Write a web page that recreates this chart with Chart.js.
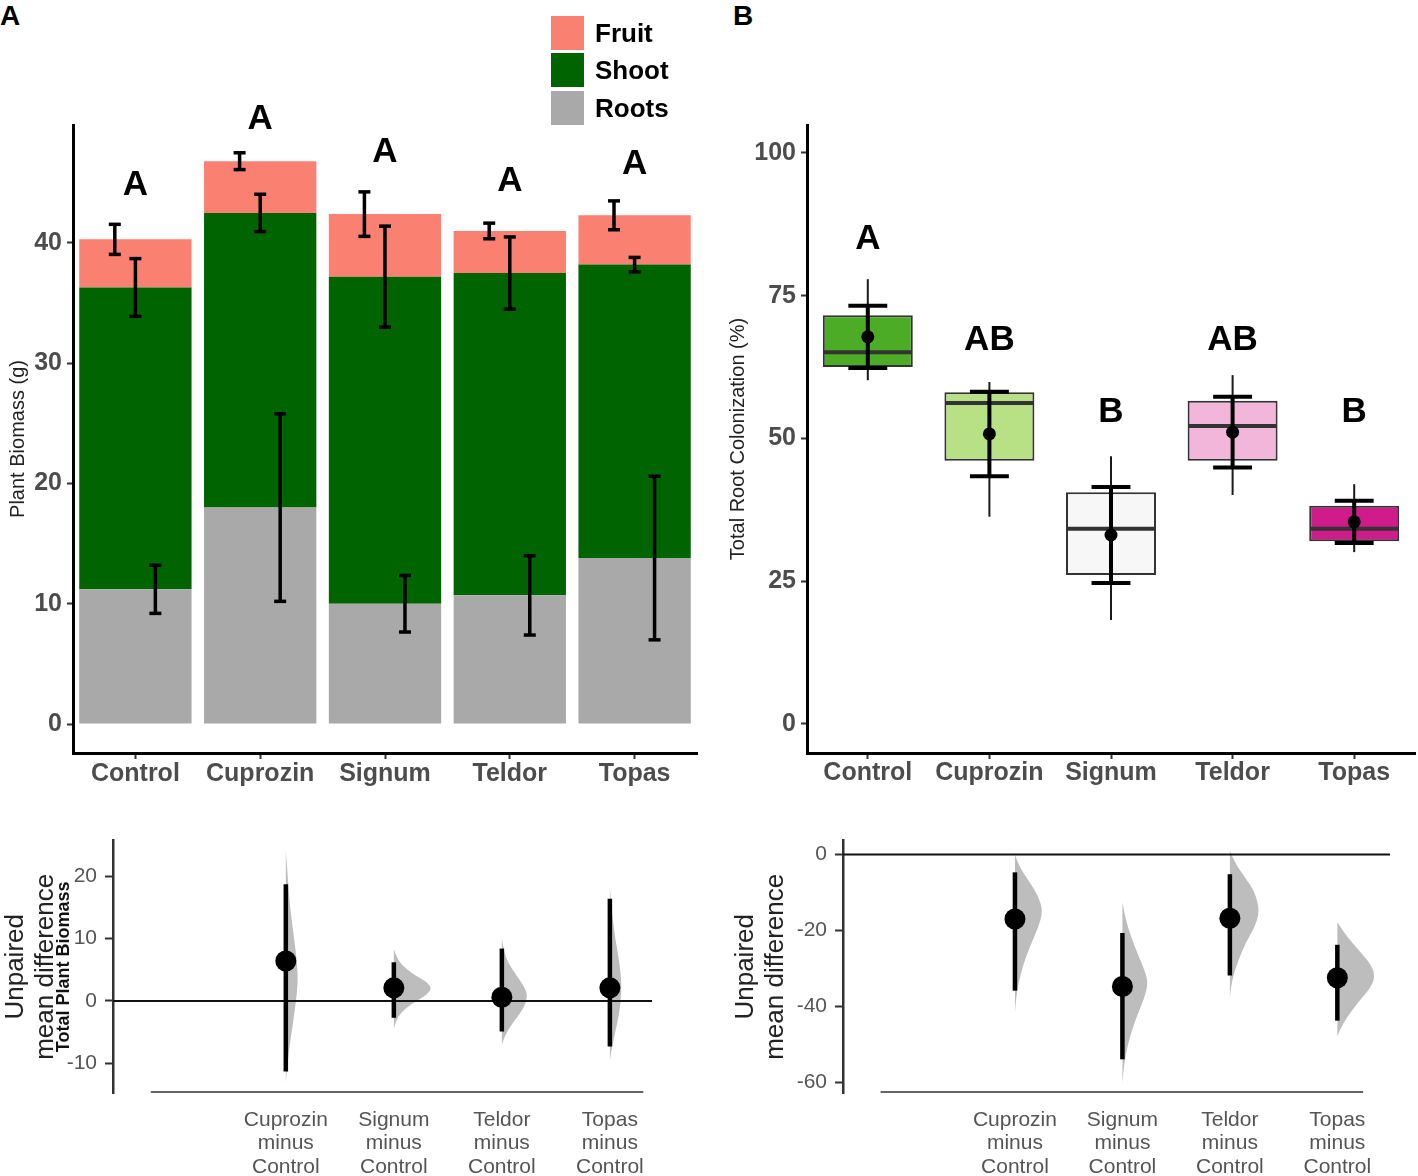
<!DOCTYPE html>
<html>
<head>
<meta charset="utf-8">
<title>Plant biomass and root colonization</title>
<script src="https://cdn.jsdelivr.net/npm/chart.js@4.4.1/dist/chart.umd.min.js"></script>
<style>
  html, body { margin: 0; padding: 0; background: #fff; }
  body { width: 1418px; height: 1176px; position: relative; overflow: hidden;
         font-family: "Liberation Sans", Arial, Helvetica, sans-serif; }
  .panel { position: absolute; }
  .tag { position: absolute; top: 2px; font-weight: bold; font-size: 28px; line-height: 1; color: #000; }
  #legend { position: absolute; left: 551px; top: 16px; width: 150px; height: 110px; }
  #legend .row { position: absolute; left: 0; width: 150px; height: 34px; }
  #legend .sw { position: absolute; left: 0; top: 0; width: 33px; height: 34px; }
  #legend .lab { position: absolute; left: 44px; top: 0; line-height: 34px; font-weight: bold; font-size: 26px; color: #000; }
</style>
</head>
<body>
<div class="tag" style="left:0px">A</div>
<div class="tag" style="left:733px">B</div>

<div class="panel" style="left:0px;top:0px"><canvas id="biomass" width="710" height="800"></canvas></div>
<div class="panel" style="left:710px;top:0px"><canvas id="colon" width="708" height="800"></canvas></div>
<div class="panel" style="left:0px;top:820px"><canvas id="biomassDiff" width="710" height="356"></canvas></div>
<div class="panel" style="left:710px;top:820px"><canvas id="colonDiff" width="708" height="356"></canvas></div>
<div id="legend"></div>

<script>
// ---- data ----
const groups = ['Control', 'Cuprozin', 'Signum', 'Teldor', 'Topas'];

// A: stacked biomass (g) per compartment, and error half-widths
const roots = [11.2, 18.0, 10.0, 10.7, 13.8];
const shoot = [25.1, 24.5, 27.2, 26.8, 24.4];
const fruit = [4.0, 4.3, 5.2, 3.5, 4.1];
const rootsErr = [2.0, 7.8, 2.35, 3.3, 6.8];
const shootErr = [2.4, 1.55, 4.2, 3.0, 0.6];
const fruitErr = [1.25, 0.7, 1.85, 0.65, 1.2];
const lettersA = ['A', 'A', 'A', 'A', 'A'];
const letterLevelA = [44.8, 50.3, 47.5, 45.1, 46.5];
const ticksBiomass = [0, 10, 20, 30, 40];

// B: root colonization (%) boxplots
const colWhiskLo = [60.2, 36.3, 18.2, 40.1, 30.1];
const colQ1 = [62.5, 46.1, 26.1, 46.1, 32.0];
const colMedian = [65.1, 56.2, 34.2, 52.2, 34.2];
const colQ3 = [71.6, 58.1, 40.6, 56.6, 38.2];
const colWhiskHi = [77.9, 59.9, 46.9, 61.1, 42.0];
const colMean = [67.8, 50.8, 33.1, 51.1, 35.4];
const colMeanErr = [5.45, 7.4, 8.4, 6.2, 3.7];
const lettersB = ['A', 'AB', 'B', 'AB', 'B'];
const letterLevelB = [84.8, 67.1, 54.5, 67.1, 54.5];
const ticksColon = [0, 25, 50, 75, 100];

// estimation plots: mean differences vs Control with 95% CI
const contrasts = ['Cuprozin', 'Signum', 'Teldor', 'Topas'];
const diffBiomass = [6.4, 2.1, 0.6, 2.1];
const ciLoBiomass = [-11.3, -2.7, -4.9, -7.3];
const ciHiBiomass = [18.7, 6.2, 8.4, 16.4];
const ticksDiffBiomass = [-10, 0, 10, 20];
// bootstrap distributions as [value, relative density]
const bootBiomass = [
  [[24.1, 0], [20, 0.05], [15, 0.11], [10, 0.22], [6, 0.3], [3, 0.32], [0, 0.27], [-4, 0.18], [-8, 0.08], [-11, 0.03], [-13.1, 0]],
  [[8.3, 0], [6.5, 0.1], [5, 0.35], [4, 0.6], [3, 0.88], [2, 1], [1, 0.88], [0, 0.6], [-1, 0.35], [-2.5, 0.1], [-4.4, 0]],
  [[10, 0], [8, 0.05], [6, 0.17], [4, 0.4], [2, 0.62], [0.8, 0.68], [-1, 0.6], [-3, 0.35], [-5, 0.12], [-7, 0]],
  [[18.1, 0], [14, 0.06], [10, 0.14], [6, 0.26], [2, 0.32], [-2, 0.25], [-5, 0.14], [-8, 0.04], [-9.5, 0]]
];

const diffColon = [-17.0, -34.8, -16.8, -32.5];
const ciLoColon = [-35.9, -54.0, -31.9, -43.8];
const ciHiColon = [-4.7, -20.7, -5.2, -23.8];
const ticksDiffColon = [-60, -40, -20, 0];
const bootColon = [
  [[0, 0], [-3, 0.1], [-7, 0.37], [-11, 0.63], [-15, 0.74], [-19, 0.63], [-24, 0.41], [-29, 0.22], [-34, 0.09], [-38, 0.03], [-41.9, 0]],
  [[-12.6, 0], [-17, 0.08], [-22, 0.24], [-27, 0.44], [-31, 0.61], [-34, 0.68], [-38, 0.58], [-43, 0.37], [-48, 0.2], [-53, 0.08], [-57, 0.03], [-60.2, 0]],
  [[1, 0], [-2, 0.12], [-6, 0.4], [-10, 0.67], [-15, 0.79], [-19, 0.67], [-23, 0.43], [-28, 0.22], [-32, 0.09], [-35, 0.03], [-37.9, 0]],
  [[-17.8, 0], [-21, 0.2], [-25, 0.55], [-29, 0.9], [-32, 1], [-35, 0.9], [-39, 0.55], [-43, 0.25], [-46, 0.08], [-47.9, 0]]
];

// ---- styling ----
const FONT = '"Liberation Sans", Arial, Helvetica, sans-serif';
const compColors = { Fruit: '#fa8072', Shoot: '#006400', Roots: '#a9a9a9' };
const boxColors = ['#4dac26', '#b8e186', '#f7f7f7', '#f1b6da', '#d01c8b'];
const tickGray = '#4d4d4d';

Chart.defaults.font.family = FONT;
Chart.defaults.animation = false;

// legend (top right of panel A)
const legendBox = document.getElementById('legend');
['Fruit', 'Shoot', 'Roots'].forEach((name, k) => {
  const row = document.createElement('div');
  row.className = 'row';
  row.style.top = [0, 37, 75][k] + 'px';
  row.innerHTML = '<div class="sw" style="background:' + compColors[name] + '"></div><div class="lab">' + name + '</div>';
  legendBox.appendChild(row);
});

const fixWidth = w => s => { s.width = w; };
const fixHeight = h => s => { s.height = h; };
const setTicks = list => s => { s.ticks = list.map(v => ({ value: v })); };

function line(ctx, x1, y1, x2, y2) {
  ctx.beginPath(); ctx.moveTo(x1, y1); ctx.lineTo(x2, y2); ctx.stroke();
}

function errorBar(ctx, x, yTop, yBot, capHalf) {
  line(ctx, x, yTop, x, yBot);
  line(ctx, x - capHalf, yTop, x + capHalf, yTop);
  line(ctx, x - capHalf, yBot, x + capHalf, yBot);
}

// ---- A: stacked biomass bars ----
const biomassMarks = {
  id: 'biomassMarks',
  afterDatasetsDraw(chart) {
    const { ctx, scales: { x, y } } = chart;
    const step = x.getPixelForValue(1) - x.getPixelForValue(0);
    ctx.save();
    ctx.strokeStyle = '#000';
    ctx.lineWidth = 3.5;
    groups.forEach((g, i) => {
      const cx = x.getPixelForValue(i);
      const layers = [
        { top: roots[i], err: rootsErr[i], shift: 0.16 },
        { top: roots[i] + shoot[i], err: shootErr[i], shift: 0 },
        { top: roots[i] + shoot[i] + fruit[i], err: fruitErr[i], shift: -0.165 }
      ];
      layers.forEach(L => {
        errorBar(ctx, cx + L.shift * step, y.getPixelForValue(L.top + L.err),
          y.getPixelForValue(L.top - L.err), 6);
      });
    });
    ctx.fillStyle = '#000';
    ctx.font = 'bold 35px ' + FONT;
    ctx.textAlign = 'center';
    ctx.textBaseline = 'middle';
    groups.forEach((g, i) => {
      ctx.fillText(lettersA[i], x.getPixelForValue(i), y.getPixelForValue(letterLevelA[i]));
    });
    ctx.restore();
  }
};

new Chart(document.getElementById('biomass'), {
  type: 'bar',
  data: {
    labels: groups,
    datasets: [
      { label: 'Roots', data: roots, backgroundColor: compColors.Roots },
      { label: 'Shoot', data: shoot, backgroundColor: compColors.Shoot },
      { label: 'Fruit', data: fruit, backgroundColor: compColors.Fruit }
    ]
  },
  options: {
    responsive: false,
    layout: { padding: { top: 125, right: 13, left: 0, bottom: 0 } },
    plugins: { legend: { display: false }, tooltip: { enabled: false } },
    datasets: { bar: { barPercentage: 0.9, categoryPercentage: 1 } },
    scales: {
      x: {
        stacked: true,
        grid: { drawOnChartArea: false, offset: false, tickLength: 6, tickColor: '#333', tickWidth: 2 },
        border: { display: true, color: '#000', width: 3 },
        ticks: { color: tickGray, padding: 3, font: { size: 25, weight: 'bold', lineHeight: 1 } },
        afterFit: fixHeight(47)
      },
      y: {
        stacked: true,
        min: -2.41, max: 49.81,
        afterBuildTicks: setTicks(ticksBiomass),
        grid: { drawOnChartArea: false, tickLength: 6, tickColor: '#333', tickWidth: 2 },
        border: { display: true, color: '#000', width: 3 },
        ticks: { color: tickGray, padding: 5, font: { size: 25, weight: 'bold' } },
        title: { display: true, text: 'Plant Biomass (g)', color: '#222', font: { size: 20 }, padding: { top: 6, bottom: 0 } },
        afterFit: fixWidth(73)
      }
    }
  },
  plugins: [biomassMarks]
});

// ---- B: colonization boxplots ----
const colonMarks = {
  id: 'colonMarks',
  beforeDatasetsDraw(chart) {
    const { ctx, scales: { x, y } } = chart;
    ctx.save();
    ctx.strokeStyle = '#1a1a1a';
    ctx.lineWidth = 2;
    groups.forEach((g, i) => {
      const cx = x.getPixelForValue(i);
      line(ctx, cx, y.getPixelForValue(colWhiskHi[i]), cx, y.getPixelForValue(colWhiskLo[i]));
    });
    ctx.restore();
  },
  afterDatasetsDraw(chart) {
    const { ctx, scales: { x, y } } = chart;
    const step = x.getPixelForValue(1) - x.getPixelForValue(0);
    const boxes = chart.getDatasetMeta(0).data;
    ctx.save();
    ctx.strokeStyle = '#333';
    ctx.lineWidth = 4;
    boxes.forEach((bar, i) => {
      const ym = y.getPixelForValue(colMedian[i]);
      line(ctx, bar.x - bar.width / 2 + 1, ym, bar.x + bar.width / 2 - 1, ym);
    });
    ctx.strokeStyle = '#000';
    ctx.fillStyle = '#000';
    ctx.lineWidth = 4;
    groups.forEach((g, i) => {
      const cx = x.getPixelForValue(i);
      errorBar(ctx, cx, y.getPixelForValue(colMean[i] + colMeanErr[i]),
        y.getPixelForValue(colMean[i] - colMeanErr[i]), 0.16 * step);
      ctx.beginPath();
      ctx.arc(cx, y.getPixelForValue(colMean[i]), 6.5, 0, Math.PI * 2);
      ctx.fill();
    });
    ctx.font = 'bold 35px ' + FONT;
    ctx.textAlign = 'center';
    ctx.textBaseline = 'middle';
    groups.forEach((g, i) => {
      ctx.fillText(lettersB[i], x.getPixelForValue(i), y.getPixelForValue(letterLevelB[i]));
    });
    ctx.restore();
  }
};

new Chart(document.getElementById('colon'), {
  type: 'bar',
  data: {
    labels: groups,
    datasets: [{
      label: 'Total Root Colonization',
      data: groups.map((g, i) => [colQ1[i], colQ3[i]]),
      backgroundColor: boxColors,
      borderColor: '#333',
      borderWidth: 2,
      borderSkipped: false,
      barPercentage: 0.74,
      categoryPercentage: 1
    }]
  },
  options: {
    responsive: false,
    layout: { padding: { top: 125, right: 3, left: 0, bottom: 0 } },
    plugins: { legend: { display: false }, tooltip: { enabled: false } },
    scales: {
      x: {
        grid: { drawOnChartArea: false, offset: false, tickLength: 6, tickColor: '#333', tickWidth: 2 },
        border: { display: true, color: '#000', width: 3 },
        ticks: { color: tickGray, padding: 2, font: { size: 25, weight: 'bold', lineHeight: 1 } },
        afterFit: fixHeight(47)
      },
      y: {
        min: -5.08, max: 104.9,
        afterBuildTicks: setTicks(ticksColon),
        grid: { drawOnChartArea: false, tickLength: 6, tickColor: '#333', tickWidth: 2 },
        border: { display: true, color: '#000', width: 3 },
        ticks: { color: tickGray, padding: 5, font: { size: 25, weight: 'bold' } },
        title: { display: true, text: 'Total Root Colonization (%)', color: '#222', font: { size: 20 }, padding: { top: 16, bottom: 0 } },
        afterFit: fixWidth(97)
      }
    }
  },
  plugins: [colonMarks]
});

// ---- estimation plots ----
function drawViolin(ctx, x0, ys, pts, halfPx) {
  const P = pts.map(([v, d]) => [x0 + d * halfPx, ys.getPixelForValue(v)]);
  ctx.beginPath();
  ctx.moveTo(P[0][0], P[0][1]);
  for (let k = 1; k < P.length - 1; k++) {
    const mx = (P[k][0] + P[k + 1][0]) / 2, my = (P[k][1] + P[k + 1][1]) / 2;
    ctx.quadraticCurveTo(P[k][0], P[k][1], mx, my);
  }
  ctx.lineTo(P[P.length - 1][0], P[P.length - 1][1]);
  ctx.lineTo(x0, P[P.length - 1][1]);
  ctx.closePath();
  ctx.fill();
}

function estimationMarks(boot, ciLo, ciHi, lineEnd) {
  return {
    id: 'estimationMarks',
    beforeDatasetsDraw(chart) {
      const { ctx, chartArea, scales: { x, y } } = chart;
      const step = x.getPixelForValue(1) - x.getPixelForValue(0);
      ctx.save();
      ctx.fillStyle = '#bdbdbd';
      boot.forEach((pts, i) => drawViolin(ctx, x.getPixelForValue(i + 1), y, pts, 0.35 * step));
      ctx.strokeStyle = '#111';
      ctx.lineWidth = 2;
      const y0 = y.getPixelForValue(0);
      line(ctx, chartArea.left, y0, chartArea.right, y0);
      ctx.strokeStyle = '#000';
      ctx.lineWidth = 4.5;
      ciLo.forEach((lo, i) => {
        const cx = x.getPixelForValue(i + 1);
        line(ctx, cx, y.getPixelForValue(ciHi[i]), cx, y.getPixelForValue(lo));
      });
      ctx.restore();
    },
    afterDraw(chart) {
      const { ctx, chartArea, scales: { x } } = chart;
      ctx.save();
      ctx.strokeStyle = '#666';
      ctx.lineWidth = 2;
      line(ctx, x.getPixelForValue(-0.25), chartArea.bottom - 1, x.getPixelForValue(lineEnd), chartArea.bottom - 1);
      ctx.restore();
    }
  };
}

const subtitle = (text, cx) => ({
  id: 'subtitle',
  afterDraw(chart) {
    const { ctx, chartArea } = chart;
    ctx.save();
    ctx.translate(cx, (chartArea.top + chartArea.bottom) / 2);
    ctx.rotate(-Math.PI / 2);
    ctx.fillStyle = '#111';
    ctx.font = 'bold 18px ' + FONT;
    ctx.textAlign = 'center';
    ctx.textBaseline = 'middle';
    ctx.fillText(text, 0, 0);
    ctx.restore();
  }
});

function estimationChart(id, diff, ciLo, ciHi, boot, yMin, yMax, yTicks, xMax, lineEnd, axisWidth, padRight, titlePad, extra) {
  return new Chart(document.getElementById(id), {
    type: 'scatter',
    data: {
      datasets: [{
        label: 'Unpaired mean difference',
        data: diff.map((d, i) => ({ x: i + 1, y: d })),
        backgroundColor: '#000',
        borderWidth: 0,
        pointRadius: 10.5,
        clip: false
      }]
    },
    options: {
      responsive: false,
      layout: { padding: { top: 18, right: padRight, left: 0, bottom: 0 } },
      plugins: { legend: { display: false }, tooltip: { enabled: false } },
      scales: {
        x: {
          type: 'linear', min: -0.6, max: xMax,
          afterBuildTicks: setTicks([1, 2, 3, 4]),
          grid: { display: false, drawTicks: false },
          border: { display: false },
          ticks: {
            callback: (v, i) => [contrasts[i], 'minus', groups[0]],
            color: '#555', padding: 16, maxRotation: 0,
            font: { size: 21, lineHeight: 1.1 }
          },
          afterFit: fixHeight(83)
        },
        y: {
          min: yMin, max: yMax,
          afterBuildTicks: setTicks(yTicks),
          grid: { drawOnChartArea: false, tickLength: 8, tickColor: '#333', tickWidth: 2 },
          border: { display: true, color: '#333', width: 2.5 },
          ticks: { color: '#555', padding: 8, font: { size: 21 } },
          title: {
            display: true, text: ['Unpaired', 'mean difference'], color: '#222',
            font: { size: 26, lineHeight: 1.15 }, padding: { top: titlePad, bottom: 0 }
          },
          afterFit: fixWidth(axisWidth)
        }
      }
    },
    plugins: [estimationMarks(boot, ciLo, ciHi, lineEnd)].concat(extra)
  });
}

estimationChart('biomassDiff', diffBiomass, ciLoBiomass, ciHiBiomass, bootBiomass,
  -14.76, 25.71, ticksDiffBiomass, 4.39, 4.31, 113, 58, 1, [subtitle('Total Plant Biomass', 64)]);
estimationChart('colonDiff', diffColon, ciLoColon, ciHiColon, bootColon,
  -62.88, 3.67, ticksDiffColon, 4.49, 4.24, 133, 28, 21, []);
</script>
</body>
</html>
